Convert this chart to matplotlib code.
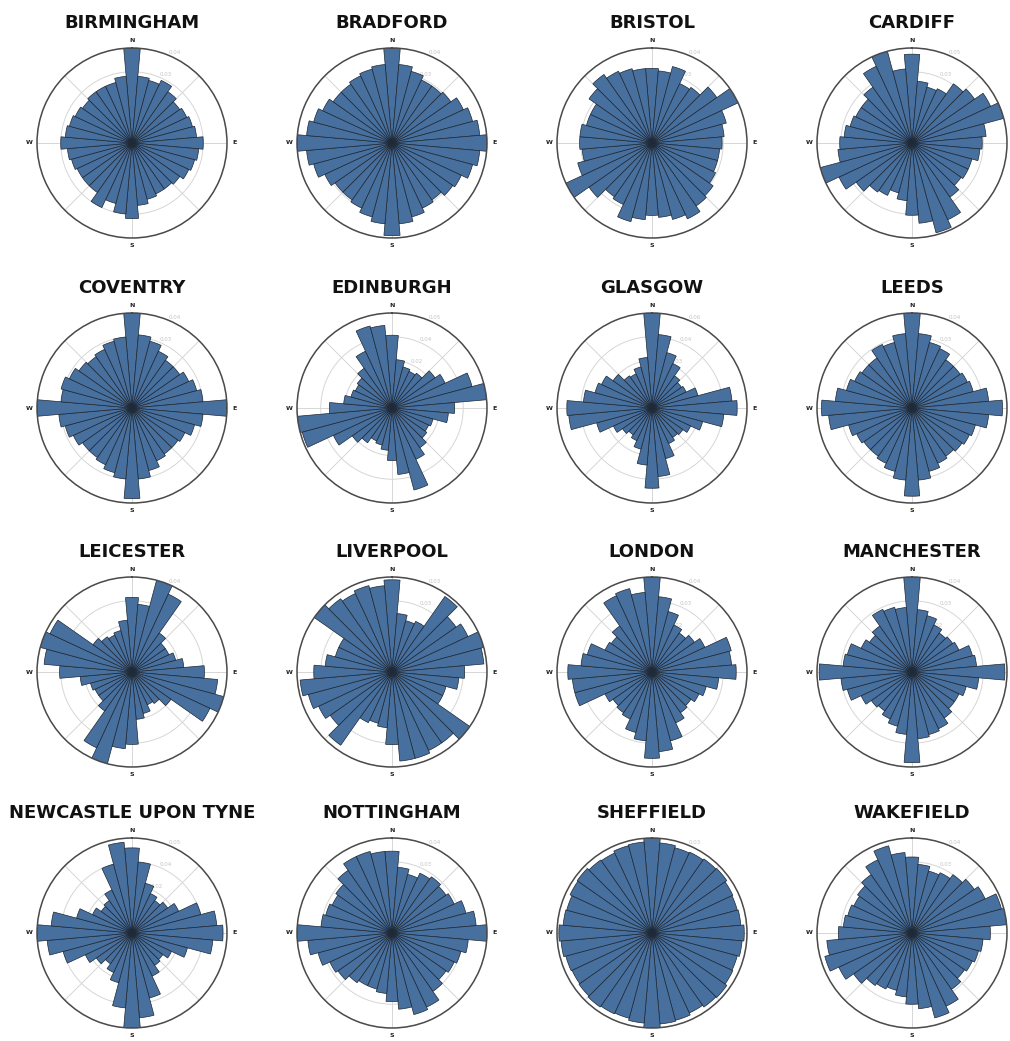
import numpy as np
import matplotlib
matplotlib.use("Agg")
import matplotlib.pyplot as plt

# Street bearing frequencies per 10-degree bin (0 = N, clockwise)
cities = ["BIRMINGHAM", "BRADFORD", "BRISTOL", "CARDIFF",
          "COVENTRY", "EDINBURGH", "GLASGOW", "LEEDS",
          "LEICESTER", "LIVERPOOL", "LONDON", "MANCHESTER",
          "NEWCASTLE UPON TYNE", "NOTTINGHAM", "SHEFFIELD", "WAKEFIELD"]

bearings = list(range(0, 360, 10))

birmingham = [0.044, 0.031, 0.030, 0.032, 0.029, 0.027, 0.028, 0.029, 0.030, 0.033, 0.031, 0.030,
              0.029, 0.027, 0.026, 0.026, 0.027, 0.029, 0.035, 0.033, 0.029, 0.033, 0.028, 0.028,
              0.028, 0.029, 0.030, 0.033, 0.031, 0.030, 0.029, 0.028, 0.029, 0.029, 0.029, 0.031]
bradford = [0.041, 0.034, 0.032, 0.030, 0.030, 0.031, 0.034, 0.036, 0.038, 0.041, 0.038, 0.036,
            0.033, 0.032, 0.030, 0.031, 0.033, 0.035, 0.040, 0.035, 0.033, 0.031, 0.030, 0.030,
            0.032, 0.035, 0.037, 0.041, 0.037, 0.035, 0.033, 0.031, 0.031, 0.032, 0.033, 0.034]
bristol = [0.033, 0.032, 0.035, 0.029, 0.030, 0.035, 0.042, 0.034, 0.032, 0.031, 0.030, 0.030,
           0.031, 0.033, 0.034, 0.037, 0.035, 0.033, 0.032, 0.034, 0.036, 0.030, 0.029, 0.034,
           0.042, 0.034, 0.031, 0.032, 0.032, 0.030, 0.030, 0.034, 0.037, 0.035, 0.034, 0.033]
cardiff = [0.043, 0.030, 0.028, 0.029, 0.035, 0.037, 0.042, 0.046, 0.036, 0.034, 0.033, 0.030,
           0.030, 0.029, 0.032, 0.041, 0.045, 0.039, 0.035, 0.028, 0.025, 0.028, 0.029, 0.033,
           0.039, 0.046, 0.036, 0.035, 0.033, 0.031, 0.030, 0.030, 0.033, 0.041, 0.046, 0.036]
coventry = [0.044, 0.034, 0.032, 0.029, 0.027, 0.027, 0.029, 0.031, 0.033, 0.044, 0.033, 0.030,
            0.027, 0.026, 0.026, 0.027, 0.030, 0.033, 0.042, 0.033, 0.031, 0.029, 0.028, 0.028,
            0.030, 0.032, 0.034, 0.044, 0.033, 0.034, 0.032, 0.030, 0.029, 0.030, 0.032, 0.033]
edinburgh = [0.036, 0.024, 0.021, 0.020, 0.021, 0.026, 0.029, 0.041, 0.047, 0.031, 0.028, 0.021,
             0.020, 0.021, 0.024, 0.028, 0.042, 0.033, 0.026, 0.021, 0.019, 0.018, 0.021, 0.024,
             0.032, 0.046, 0.047, 0.031, 0.024, 0.021, 0.020, 0.021, 0.024, 0.031, 0.042, 0.041]
glasgow = [0.058, 0.045, 0.035, 0.030, 0.024, 0.022, 0.023, 0.029, 0.049, 0.052, 0.044, 0.032,
           0.026, 0.023, 0.022, 0.024, 0.032, 0.042, 0.049, 0.035, 0.026, 0.022, 0.020, 0.022,
           0.026, 0.035, 0.051, 0.052, 0.042, 0.036, 0.034, 0.029, 0.024, 0.023, 0.026, 0.031]
leeds = [0.042, 0.033, 0.030, 0.029, 0.026, 0.026, 0.027, 0.028, 0.034, 0.040, 0.034, 0.029,
         0.028, 0.027, 0.026, 0.027, 0.029, 0.032, 0.039, 0.032, 0.029, 0.027, 0.026, 0.026,
         0.027, 0.029, 0.037, 0.040, 0.034, 0.030, 0.028, 0.027, 0.027, 0.031, 0.030, 0.033]
leicester = [0.033, 0.030, 0.042, 0.038, 0.021, 0.018, 0.018, 0.020, 0.023, 0.032, 0.038, 0.042,
             0.038, 0.021, 0.017, 0.016, 0.019, 0.021, 0.032, 0.034, 0.042, 0.037, 0.021, 0.018,
             0.018, 0.019, 0.023, 0.032, 0.039, 0.042, 0.040, 0.021, 0.019, 0.018, 0.019, 0.023]
liverpool = [0.033, 0.021, 0.019, 0.020, 0.033, 0.028, 0.030, 0.034, 0.033, 0.026, 0.024, 0.020,
             0.020, 0.034, 0.031, 0.031, 0.032, 0.032, 0.026, 0.020, 0.019, 0.020, 0.032, 0.027,
             0.029, 0.031, 0.033, 0.028, 0.024, 0.021, 0.021, 0.034, 0.032, 0.031, 0.032, 0.031]
london = [0.044, 0.035, 0.029, 0.024, 0.022, 0.024, 0.027, 0.038, 0.037, 0.039, 0.031, 0.026,
          0.024, 0.022, 0.023, 0.026, 0.033, 0.037, 0.040, 0.032, 0.029, 0.024, 0.023, 0.022,
          0.024, 0.037, 0.037, 0.039, 0.033, 0.031, 0.024, 0.023, 0.026, 0.039, 0.040, 0.037]
manchester = [0.044, 0.029, 0.027, 0.024, 0.022, 0.023, 0.024, 0.029, 0.030, 0.043, 0.031, 0.026,
              0.024, 0.024, 0.026, 0.029, 0.030, 0.031, 0.042, 0.029, 0.026, 0.024, 0.022, 0.023,
              0.026, 0.031, 0.033, 0.043, 0.032, 0.031, 0.026, 0.024, 0.026, 0.032, 0.031, 0.030]
newcastle = [0.043, 0.036, 0.026, 0.022, 0.020, 0.022, 0.026, 0.036, 0.043, 0.046, 0.041, 0.029,
             0.022, 0.019, 0.020, 0.024, 0.034, 0.043, 0.048, 0.038, 0.026, 0.022, 0.019, 0.022,
             0.026, 0.036, 0.043, 0.048, 0.041, 0.029, 0.022, 0.019, 0.020, 0.024, 0.036, 0.046]
nottingham = [0.031, 0.025, 0.023, 0.025, 0.026, 0.025, 0.026, 0.029, 0.032, 0.036, 0.029, 0.027,
              0.026, 0.025, 0.027, 0.031, 0.032, 0.029, 0.026, 0.023, 0.022, 0.022, 0.023, 0.025,
              0.026, 0.029, 0.032, 0.036, 0.027, 0.026, 0.025, 0.026, 0.029, 0.032, 0.032, 0.031]
sheffield = [0.0310, 0.0295, 0.0288, 0.0291, 0.0295, 0.0298, 0.0291, 0.0288, 0.0291, 0.0301, 0.0295, 0.0288,
             0.0291, 0.0298, 0.0295, 0.0288, 0.0295, 0.0298, 0.0310, 0.0295, 0.0288, 0.0291, 0.0295, 0.0291,
             0.0288, 0.0291, 0.0298, 0.0304, 0.0291, 0.0288, 0.0295, 0.0298, 0.0291, 0.0288, 0.0295, 0.0298]
wakefield = [0.032, 0.029, 0.027, 0.028, 0.030, 0.032, 0.034, 0.039, 0.040, 0.033, 0.030, 0.029,
             0.028, 0.027, 0.029, 0.034, 0.037, 0.032, 0.030, 0.027, 0.025, 0.026, 0.027, 0.030,
             0.034, 0.038, 0.036, 0.031, 0.029, 0.028, 0.027, 0.028, 0.030, 0.034, 0.038, 0.034]

series = [birmingham, bradford, bristol, cardiff,
          coventry, edinburgh, glasgow, leeds,
          leicester, liverpool, london, manchester,
          newcastle, nottingham, sheffield, wakefield]

compass = ["N", "", "E", "", "S", "", "W", ""]
# the right-hand column sits against the page edge, so its E label falls off the page
compass_edge = ["N", "", "", "", "S", "", "W", ""]

W, H = 1010, 1041
fig = plt.figure(figsize=(W / 100, H / 100), dpi=100)
fig.patch.set_facecolor("white")

col_x = [132, 392, 652, 912]
row_y = [143, 408, 672, 933]
R = 95

theta = np.deg2rad(bearings)
for k, (name, freq) in enumerate(zip(cities, series)):
    cx, cy = col_x[k % 4], row_y[k // 4]
    ax = fig.add_axes([(cx - R) / W, 1 - (cy + R) / H, 2 * R / W, 2 * R / H],
                      projection="polar")
    ax.set_theta_zero_location("N")
    ax.set_theta_direction("clockwise")
    ax.set_axisbelow(True)
    top = max(freq)
    ax.bar(theta, freq, width=np.deg2rad(10), align="center",
           color="#48709f", edgecolor="#1d2733", linewidth=0.5, zorder=2)
    ax.set_ylim(0, top)

    yt = np.linspace(0, top, 5)
    ax.set_yticks(yt)
    ylabels = ["{:.2f}".format(y) for y in yt]
    ylabels[0] = ""
    ax.set_yticklabels(ylabels, fontsize=4, color="#c4c4c4")
    ax.set_rlabel_position(22.5)

    ax.set_xticks(np.deg2rad(np.arange(0, 360, 45)))
    ax.set_xticklabels(compass_edge if k % 4 == 3 else compass,
                       fontsize=4.5, fontweight="bold", color="#222222")
    ax.tick_params(axis="x", pad=-5)
    ax.grid(True, color="#d6d6d6", linewidth=0.7)
    ax.spines["polar"].set_color("#4a4a4a")
    ax.spines["polar"].set_linewidth(1.1)

    fig.text(cx / W, 1 - (cy - R - 25) / H, name, ha="center", va="center",
             fontsize=13, fontweight="bold", family="DejaVu Sans", color="#111111")

fig.savefig("out.png", dpi=100, facecolor="white")
